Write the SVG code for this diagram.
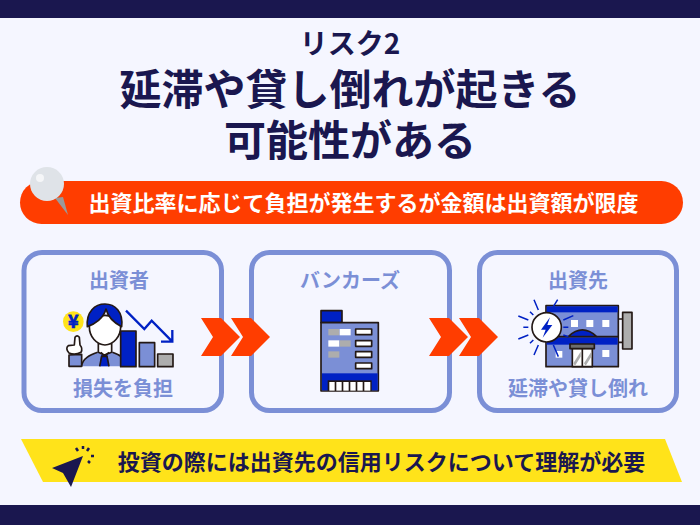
<svg xmlns="http://www.w3.org/2000/svg" width="700" height="525" viewBox="0 0 700 525">
<defs>
<style>
text{font-family:"Noto Sans CJK JP","Noto Sans",sans-serif;font-weight:700;text-anchor:middle}
.title{fill:#1a174f;font-size:42px}
.lab{fill:#7b8fd6;font-size:20px}
.box{fill:#f5f6ff;stroke:#7b8fd6;stroke-width:5}
.chev{fill:#ff3d00}
.k{stroke:#231815;stroke-width:5;stroke-linejoin:round}
.mid{fill:#7b8fd6}.blu{fill:#0021c4}.gry{fill:#adadad}.wht{fill:#fff}
.ray{stroke:#0021c4;stroke-width:4.500;fill:none}
</style>
<polygon id="ch" points="0,0 20,0 39,19 20,38 0,38 12,19"/>
</defs>
<rect width="700" height="525" fill="#f5f6ff"/>
<rect width="700" height="18" fill="#1a174f"/>
<rect y="505" width="700" height="20" fill="#1a174f"/>
<g id="heading">
<text x="350" y="54" class="title" style="font-size:28px">リスク2</text>
<text x="350" y="105" class="title">延滞や貸し倒れが起きる</text>
<text x="350" y="156" class="title">可能性がある</text>
</g>
<g id="banner">
<rect x="20" y="181" width="663" height="43" rx="21.500" fill="#ff3d00"/>
<polygon points="55,198 63,197 68,215" fill="#9a9a9a"/>
<circle cx="47" cy="184" r="17" fill="#dfe3e8"/>
<circle cx="40" cy="178" r="4" fill="#f5f6f8"/>
<text x="363.500" y="211" fill="#fff" font-size="22">出資比率に応じて負担が発生するが金額は出資額が限度</text>
</g>
<g id="investor">
<rect class="box" x="24" y="252.500" width="197.500" height="158" rx="18"/>
<text class="lab" x="119" y="288">出資者</text>
<text class="lab" x="123" y="396">損失を負担</text>
<g transform="translate(55,295) scale(.3333)">
<circle cx="55" cy="80" r="31" fill="#ffe31a"/>
<text x="55" y="99" font-size="54" stroke="#0021c4" stroke-width="2" style="fill:#0021c4">¥</text>
<path class="mid k" d="M42,214V180L80,178V214Z"/>
<path class="wht k" d="M58,150L60,127Q66,118 73,127L75,150Q84,160 78,172Q60,182 42,174Q30,160 40,152Z"/>
<path class="mid" d="M80,214C82,190 105,180 128,172H172C195,180 215,190 217,214Z"/>
<path d="M80,214C82,190 105,180 128,172M172,172C195,180 215,190 217,214" fill="none" class="k"/>
<path class="wht k" d="M130,145V172L148,180L170,172V145Z"/>
<path class="wht k" d="M103,95C103,125 125,150 150,150C175,150 197,125 197,95C197,50 103,50 103,95Z"/>
<path class="blu k" d="M97,95C93,50 120,27 150,27C180,27 205,50 200,95C180,85 160,70 153,42C145,70 120,88 97,95Z"/>
<path class="blu" d="M138,180H158L162,214H134Z"/>
<path class="k" fill="none" d="M138,172L148,184L162,172M134,214L140,184H156L162,214"/>
<rect class="blu k" x="197" y="108" width="46" height="107"/>
<rect class="mid k" x="253" y="143" width="46" height="72"/>
<rect class="gry k" x="308" y="177" width="46" height="38"/>
<path d="M213,47L268,102L290,77L352,140M352,105V140H318" fill="none" stroke="#0021c4" stroke-width="7"/>
</g>
</g>
<g id="bankers">
<rect class="box" x="251.500" y="252.500" width="198" height="158" rx="18"/>
<text class="lab" x="350" y="288">バンカーズ</text>
<g transform="translate(310,300) scale(.3333)">
<rect class="blu k" x="33" y="32" width="63" height="36"/>
<rect class="mid k" x="33" y="68" width="172" height="205"/>
<rect class="blu" x="36" y="220" width="167" height="51"/>
<rect x="53" y="241" width="132" height="32" fill="#231815"/>
<g class="wht"><rect x="58" y="246" width="16" height="26"/><rect x="79" y="246" width="16" height="26"/><rect x="100" y="246" width="16" height="26"/><rect x="121" y="246" width="16" height="26"/><rect x="142" y="246" width="16" height="26"/><rect x="163" y="246" width="18" height="26"/></g>
<rect class="gry" x="55" y="87" width="33" height="19"/><rect class="wht" x="89" y="87" width="33" height="19"/>
<rect class="wht" x="55" y="121" width="33" height="19"/><rect class="gry" x="89" y="121" width="33" height="19"/>
<rect class="gry" x="55" y="154" width="33" height="19"/>
<rect class="wht k" x="137" y="87" width="48" height="17"/><rect class="wht k" x="137" y="122" width="48" height="17"/><rect class="wht k" x="137" y="155" width="48" height="17"/><rect class="wht k" x="137" y="189" width="48" height="17"/>
</g>
</g>
<g id="borrower">
<rect class="box" x="479.500" y="252.500" width="197" height="158" rx="18"/>
<text class="lab" x="578" y="288">出資先</text>
<text class="lab" x="578" y="396">延滞や貸し倒れ</text>
<g transform="translate(510,295) scale(.3333)">
<rect class="mid k" x="108" y="32" width="217" height="183"/>
<rect class="blu" x="110" y="34" width="213" height="18"/>
<rect class="blu" x="110" y="127" width="213" height="22"/>
<path class="blu k" d="M175,125Q217,85 260,125Z"/>
<path class="k" d="M108,125H175M260,125H325"/>
<g class="wht"><rect x="183" y="75" width="21" height="21"/><rect x="229" y="75" width="21" height="21"/><rect x="277" y="75" width="21" height="21"/><rect x="137" y="168" width="20" height="20"/><rect x="277" y="165" width="21" height="21"/></g>
<rect x="187" y="160" width="60" height="55" fill="#fff" class="k"/>
<path d="M190,205L212,170V185L195,212ZM222,205L244,170V185L227,212Z" fill="#adadad"/>
<path class="k" d="M217,160V215"/>
<rect x="180" y="147" width="73" height="14" fill="#6d6d6d" class="k"/>
<rect class="gry k" x="338" y="52" width="28" height="110"/>
<path class="k" d="M325,72H338M325,142H338"/>
<path class="ray" d="M72,14L85,45M25,63L55,75M40,97H55M25,132L55,120M72,180L85,150M60,50L70,60M60,145L70,135M143,14L130,35M190,62L160,75M175,97H160M160,120L175,125M130,150L145,185"/>
<circle class="wht k" cx="110" cy="97" r="44"/>
<polygon class="blu" points="120,67 93,104 107,104 98,128 127,90 112,90"/>
</g>
</g>
<g id="connectors" class="chev">
<use href="#ch" x="201" y="318"/><use href="#ch" x="231" y="318"/>
<use href="#ch" x="429" y="318"/><use href="#ch" x="459" y="318"/>
</g>
<g id="note">
<polygon points="21,439 665,439 682,482 43,482" fill="#ffe31a"/>
<polygon points="83,456 52,468 63,473 71,487" fill="#1a174f"/>
<path d="M83,446V449M76,448L78,451M89,448L87,451M91,456H94M88,461L90,463" stroke="#1a174f" stroke-width="2.500" fill="none"/>
<text x="381.500" y="470" fill="#1a174f" font-size="22">投資の際には出資先の信用リスクについて理解が必要</text>
</g>
</svg>
